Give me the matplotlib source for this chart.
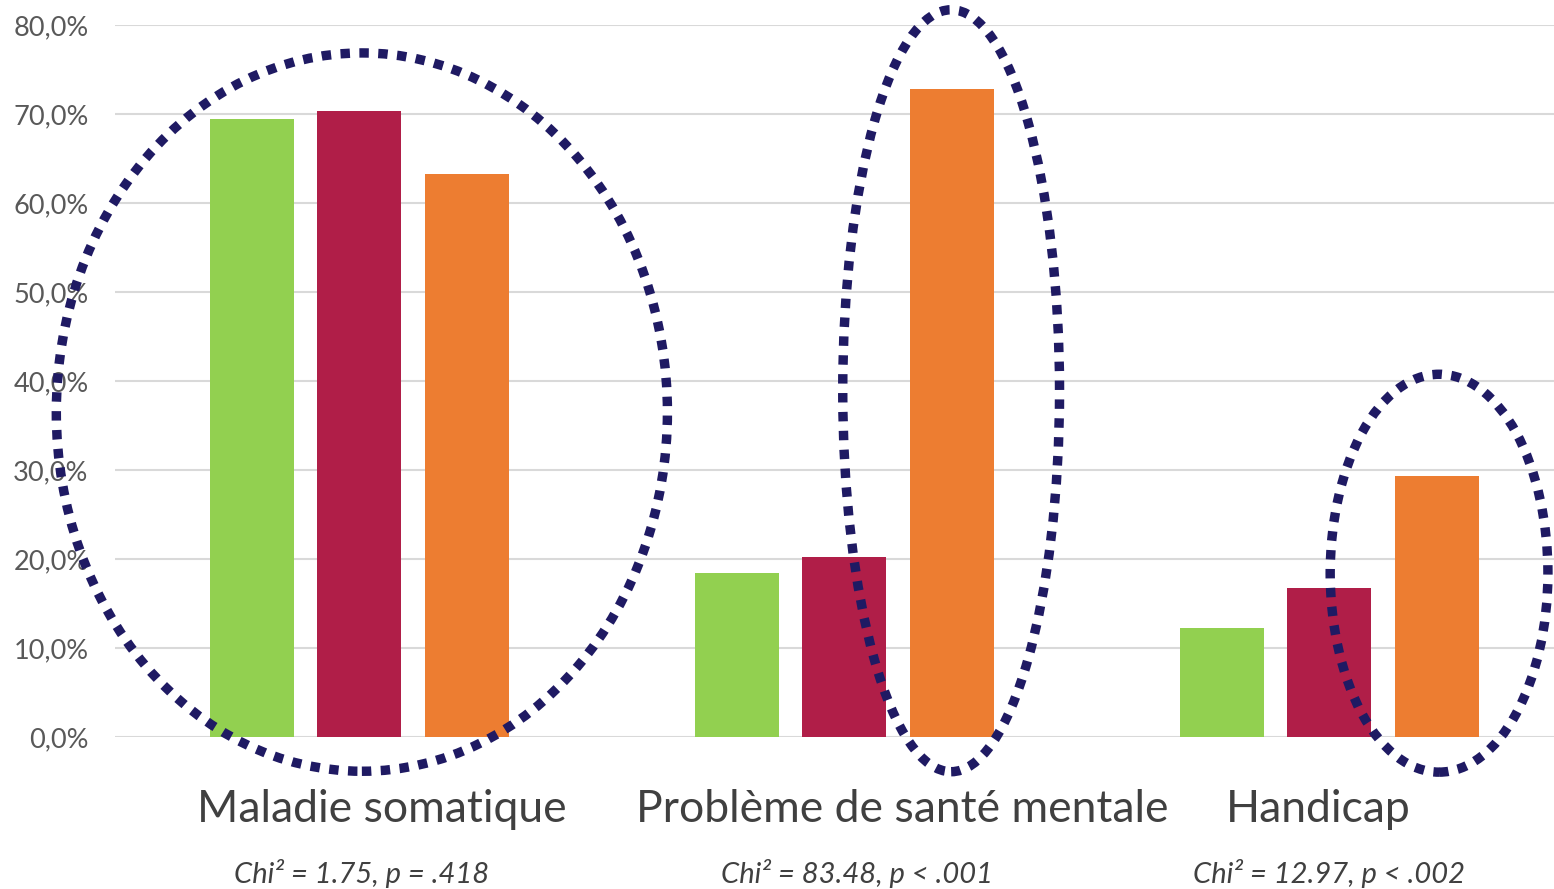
import numpy as np
import matplotlib.pyplot as plt
from matplotlib.patches import Ellipse

categories = ['Maladie somatique', 'Problème de santé mentale', 'Handicap']
stats = ['Chi² = 1.75, p = .418', 'Chi² = 83.48, p < .001', 'Chi² = 12.97, p < .002']
vert = [69.4, 18.4, 12.2]
rouge = [70.3, 20.2, 16.7]
orange = [63.3, 72.8, 29.3]
yticks = [0, 10, 20, 30, 40, 50, 60, 70, 80]

plt.rcParams['font.family'] = ['Lato', 'DejaVu Sans']

fig = plt.figure(figsize=(15.54, 8.89), dpi=100)
ax = fig.add_axes([0.074, 0.171, 0.926, 0.801])

x = np.arange(len(categories))
w = 0.173
step = 0.2216
ax.bar(x - step, vert, w, color='#92D050', zorder=2)
ax.bar(x, rouge, w, color='#B01E48', zorder=2)
ax.bar(x + step, orange, w, color='#ED7D31', zorder=2)

ax.set_xlim(-0.504, 2.463)
ax.set_ylim(0, 80)
ax.set_yticks(yticks)
ax.set_yticklabels(['%d,0%%' % v for v in yticks], fontsize=19.5, color='#595959')
ax.tick_params(axis='y', length=0, pad=19)
ax.set_xticks([])
ax.grid(axis='y', color='#D9D9D9', linewidth=1.5, zorder=0)
for s in ax.spines.values():
    s.set_visible(False)

# ellipses en pointillés autour des barres
navy = '#1F1A63'
ells = [(0.005, 36.5, 1.26, 80.7), (1.22, 38.9, 0.447, 85.6), (2.226, 18.4, 0.449, 44.7)]
for cx, cy, ew, eh in ells:
    e = Ellipse((cx, cy), ew, eh, fill=False, edgecolor=navy, linewidth=6.8,
                linestyle=(0, (1, 1)), capstyle='butt', clip_on=False, zorder=3)
    ax.add_patch(e)

lab_off = [0.046, 0.12, -0.023]
chi_off = [0.005, 0.025, 0.0]
for i in range(len(categories)):
    ax.text(x[i] + lab_off[i], -9.6, categories[i], ha='center', va='baseline',
            fontsize=32, color='#404040')
    ax.text(x[i] + chi_off[i], -16.4, stats[i], ha='center', va='baseline',
            fontsize=21, color='#404040', style='italic')

fig.savefig('out.png', dpi=100)
